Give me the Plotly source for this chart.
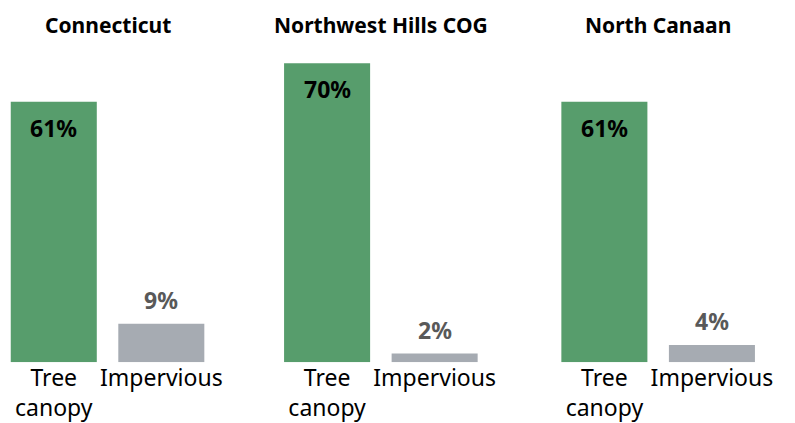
import plotly.graph_objects as go
from plotly.subplots import make_subplots

regions = ["Connecticut", "Northwest Hills COG", "North Canaan"]
categories = ["Tree<br>canopy", "Impervious"]
tree_canopy = [61, 70, 61]
impervious = [9, 2, 4]

GREEN = "#579d6c"
GRAY = "#a6abb2"
FONT = "Noto Sans"

W, H = 795, 423
fig = make_subplots(rows=1, cols=3, horizontal_spacing=0.0)

# panel domains in pixels (left, right)
panel_px = [(0, 217), (275.75, 492.75), (555.5, 772.5)]

for i, region in enumerate(regions):
    vals = [tree_canopy[i], impervious[i]]
    fig.add_trace(
        go.Bar(x=categories, y=vals, marker_color=[GREEN, GRAY],
               marker_line_width=0, showlegend=False, hoverinfo="skip"),
        row=1, col=i + 1,
    )
    xa = "x" if i == 0 else f"x{i+1}"
    ya = "y" if i == 0 else f"y{i+1}"
    # value labels: inside top of the canopy bar, above the impervious bar
    fig.add_annotation(x=categories[0], y=vals[0], xref=xa, yref=ya,
                       text=f"<b>{vals[0]}%</b>", showarrow=False,
                       yanchor="middle", yshift=-26,
                       font=dict(family=FONT, size=23, color="#000000"))
    fig.add_annotation(x=categories[1], y=vals[1], xref=xa, yref=ya,
                       text=f"<b>{vals[1]}%</b>", showarrow=False,
                       yanchor="middle", yshift=24,
                       font=dict(family=FONT, size=23, color="#595959"))
    l, r = panel_px[i]
    # panel title centred over its pair of bars
    fig.add_annotation(x=(l + r) / 2 / W, y=1, xref="paper", yref="paper",
                       xanchor="center", yanchor="middle", yshift=-25,
                       text=f"<b>{region}</b>", showarrow=False,
                       font=dict(family=FONT, size=21, color="#000000"))

top_px, base_px = 50, 363
for i in range(3):
    l, r = panel_px[i]
    key = "xaxis" if i == 0 else f"xaxis{i+1}"
    ykey = "yaxis" if i == 0 else f"yaxis{i+1}"
    fig.layout[key].update(domain=[l / W, r / W], showgrid=False, zeroline=False,
                           showline=False, ticks="",
                           tickfont=dict(family=FONT, size=23, color="#000000"))
    fig.layout[ykey].update(domain=[(H - base_px) / H, (H - top_px) / H],
                            range=[0, 73.15], visible=False)

fig.update_layout(
    width=W, height=H,
    margin=dict(l=0, r=0, t=0, b=0),
    bargap=0.2,
    plot_bgcolor="white", paper_bgcolor="white",
)

fig.write_html("out.html")
